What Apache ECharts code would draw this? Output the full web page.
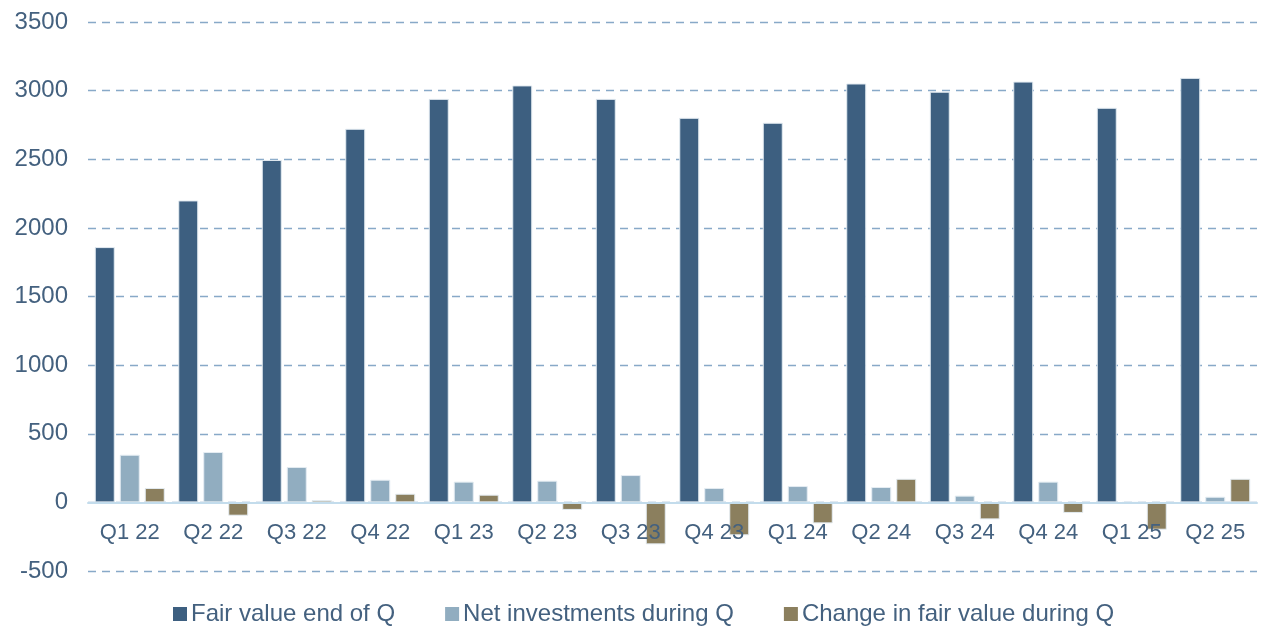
<!DOCTYPE html>
<html>
<head>
<meta charset="utf-8">
<script src="https://cdn.jsdelivr.net/npm/echarts@6/dist/echarts.min.js"></script>
<style>
  html, body { margin: 0; padding: 0; background: #fff; }
  #chart { width: 1269px; height: 628px; }
</style>
</head>
<body>
<div id="chart"></div>
<script>
var quarters = ['Q1 22', 'Q2 22', 'Q3 22', 'Q4 22', 'Q1 23', 'Q2 23', 'Q3 23', 'Q4 23', 'Q1 24', 'Q2 24', 'Q3 24', 'Q4 24', 'Q1 25', 'Q2 25'];
var fairValue = [1860, 2200, 2495, 2722, 2940, 3038, 2940, 2802, 2766, 3052, 2992, 3066, 2875, 3093];
var netInvest = [347, 367, 258, 165, 151, 158, 199, 105, 119, 112, 49, 151, 0, 41];
var fvChange = [105, -97, 17, 63, 56, -55, -306, -240, -153, 172, -124, -77, -199, 172];
var seriesNames = ['Fair value end of Q', 'Net investments during Q', 'Change in fair value during Q'];

var textColor = '#44617f';
var colors = ['#3d5f80', '#91adc0', '#8b7f5e'];

var myChart = echarts.init(document.getElementById('chart'));

function barSeries(i, data) {
    return {
        name: seriesNames[i],
        type: 'bar',
        data: data,
        barWidth: 20,
        barGap: '25%',
        itemStyle: {
            color: colors[i],
            borderColor: '#e4ecf2',
            borderWidth: 1
        }
    };
}

var option = {
    animation: false,
    textStyle: { fontFamily: 'Liberation Sans, Arial, sans-serif' },
    grid: { left: 88, right: 12, top: 22, bottom: 57, containLabel: false },
    legend: {
        top: 597,
        left: 168,
        itemWidth: 14,
        itemHeight: 14,
        itemGap: 50,
        icon: 'rect',
        itemStyle: { borderWidth: 0 },
        textStyle: { color: textColor, fontSize: 24, padding: [0, 0, 0, -1] },
        data: seriesNames
    },
    xAxis: {
        type: 'category',
        data: quarters,
        // zero line sits 500 units above the bottom of the grid
        offset: -68.6,
        axisLine: { onZero: false, lineStyle: { color: '#c3dcec', width: 2 } },
        axisTick: { show: false },
        axisLabel: { color: textColor, fontSize: 22, margin: 20 },
        z: 3
    },
    yAxis: {
        type: 'value',
        min: -500,
        max: 3500,
        interval: 500,
        axisLine: { show: false },
        axisTick: { show: false },
        axisLabel: {
            color: textColor,
            fontSize: 24,
            margin: 20,
            formatter: function (v) { return String(v); }
        },
        splitLine: {
            lineStyle: { color: '#88a9c8', type: [8, 6], width: 1.3 }
        }
    },
    series: [
        barSeries(0, fairValue),
        barSeries(1, netInvest),
        barSeries(2, fvChange)
    ]
};
myChart.setOption(option);
</script>
</body>
</html>
